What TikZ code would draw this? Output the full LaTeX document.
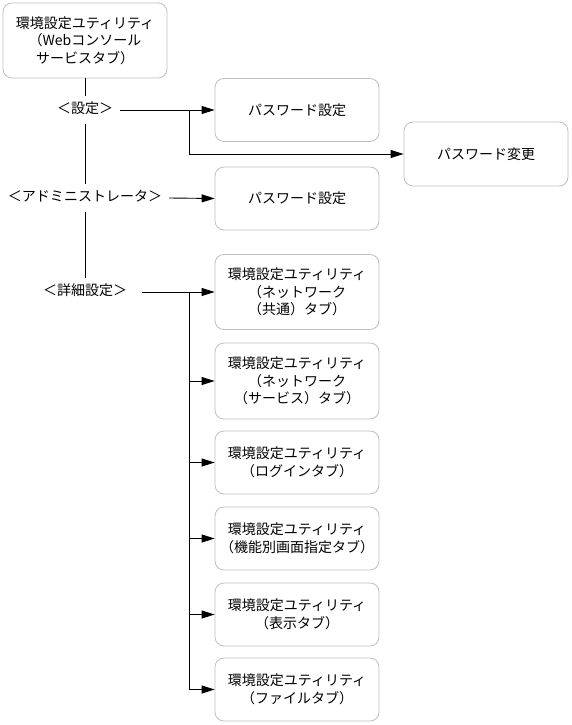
\documentclass[tikz,border=0pt]{standalone}
\usepackage{fontspec}
\setmainfont{Noto Sans CJK JP}
\usetikzlibrary{arrows.meta}
\begin{document}
\begin{tikzpicture}[x=1pt,y=-1pt,
  font=\fontsize{14}{17.5}\selectfont,
  box/.style={draw=black!25, line width=0.8pt, rounded corners=9pt, minimum width=164pt, align=center, inner sep=0pt},
  lbl/.style={inner xsep=7pt, inner ysep=7pt, text height=10pt, text depth=3pt},
  ln/.style={line width=0.9pt},
  arr/.style={ln, -{Triangle[length=13pt,width=8pt]}}]
\useasboundingbox (0,0) rectangle (571,725);
\node[box, minimum height=75pt] (top) at (85,40.5) {環境設定ユティリティ\\（Webコンソール\\サービスタブ）};
\node[lbl] (s) at (85,110) {＜設定＞};
\node[lbl] (a) at (85,198) {＜アドミニストレータ＞};
\node[lbl] (d) at (85,292) {＜詳細設定＞};
\node[box, minimum height=63pt] (p1) at (297,110) {パスワード設定};
\node[box, minimum height=64pt] (pc) at (486,154) {パスワード変更};
\node[box, minimum height=63pt] (p2) at (297,198.5) {パスワード設定};
\node[box, minimum height=75pt] (n1) at (297,292) {環境設定ユティリティ\\（ネットワーク\\（共通）タブ）};
\node[box, minimum height=76pt] (n2) at (297,381) {環境設定ユティリティ\\（ネットワーク\\（サービス）タブ）};
\node[box, minimum height=63pt] (n3) at (297,462.5) {環境設定ユティリティ\\（ログインタブ）};
\node[box, minimum height=63pt] (n4) at (297,538.5) {環境設定ユティリティ\\（機能別画面指定タブ）};
\node[box, minimum height=63pt] (n5) at (297,614.5) {環境設定ユティリティ\\（表示タブ）};
\node[box, minimum height=63pt] (n6) at (297,689.5) {環境設定ユティリティ\\（ファイルタブ）};
\draw[ln] (top.south) -- (s.north);
\draw[ln] (s.south) -- (a.north);
\draw[ln] (a.south) -- (d.north);
\draw[arr] (s.east) -- (p1.west);
\coordinate (b1) at (189,110);
\draw[arr] (b1) |- (pc.west);
\draw[arr] (a.east) -- (p2.west);
\draw[arr] ([xshift=8pt]d.east) -- (n1.west);
\coordinate (b2) at (189,292);
\foreach \n in {n2,n3,n4,n5,n6} {\draw[arr] (b2) |- (\n.west);}
\end{tikzpicture}
\end{document}
